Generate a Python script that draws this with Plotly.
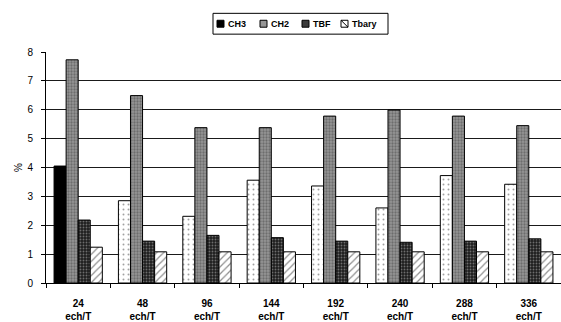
import plotly.graph_objects as go

categories = ["24<br>ech/T", "48<br>ech/T", "96<br>ech/T", "144<br>ech/T",
              "192<br>ech/T", "240<br>ech/T", "288<br>ech/T", "336<br>ech/T"]
ch3 = [4.05, 2.85, 2.31, 3.56, 3.36, 2.60, 3.72, 3.42]
ch2 = [7.73, 6.49, 5.38, 5.38, 5.78, 5.99, 5.78, 5.45]
tbf = [2.18, 1.45, 1.65, 1.57, 1.45, 1.41, 1.45, 1.53]
tbary = [1.24, 1.08, 1.08, 1.08, 1.08, 1.08, 1.08, 1.08]
series_names = ["CH3", "CH2", "TBF", "Tbary"]
y_ticks = [0, 1, 2, 3, 4, 5, 6, 7, 8]

W, H = 561, 322
ML, MR, MT, MB = 46, 0, 52, 37
PW, PH = W - ML - MR, H - MT - MB


def px_x(px):
    return (px - ML) / PW


def px_y(py):
    return (H - MB - py) / PH


line = dict(color="black", width=1)

fig = go.Figure()
fig.add_trace(go.Bar(
    name=series_names[0], x=categories, y=ch3,
    marker=dict(
        color=["black"] + ["white"] * (len(ch3) - 1),
        line=line,
        pattern=dict(shape=[""] + ["."] * (len(ch3) - 1), fgcolor="#555555",
                     size=5, solidity=0.12, fillmode="overlay"),
    ),
))
fig.add_trace(go.Bar(
    name=series_names[1], x=categories, y=ch2,
    marker=dict(color="#969696", line=line,
                pattern=dict(shape=".", fgcolor="#444444", size=3, solidity=0.45,
                             fillmode="overlay")),
))
fig.add_trace(go.Bar(
    name=series_names[2], x=categories, y=tbf,
    marker=dict(color="#1e1e1e", line=line,
                pattern=dict(shape=".", fgcolor="#bbbbbb", size=3, solidity=0.3,
                             fillmode="overlay")),
))
fig.add_trace(go.Bar(
    name=series_names[3], x=categories, y=tbary,
    marker=dict(color="white", line=line,
                pattern=dict(shape="/", fgcolor="#222222", size=5, solidity=0.25,
                             fillmode="overlay")),
))

# Manual legend (box, small swatches, labels)
shapes = [dict(type="rect", xref="paper", yref="paper",
               x0=px_x(213), x1=px_x(388), y0=px_y(34), y1=px_y(13),
               line=dict(color="black", width=1), fillcolor="white", layer="above")]
swatch_x = [217, 260, 302, 341]
swatch_fill = ["black", "#969696", "#3a3a3a", "white"]
annotations = []
for name, sx, fill in zip(series_names, swatch_x, swatch_fill):
    shapes.append(dict(type="rect", xref="paper", yref="paper",
                       x0=px_x(sx), x1=px_x(sx + 7), y0=px_y(27), y1=px_y(20),
                       line=dict(color="black", width=1), fillcolor=fill, layer="above"))
    annotations.append(dict(text=name, xref="paper", yref="paper",
                            x=px_x(sx + 9), y=px_y(24), xanchor="left", yanchor="middle",
                            showarrow=False,
                            font=dict(size=9, family="Liberation Sans, Arial",
                                      weight="bold", color="black")))
shapes.append(dict(type="line", xref="paper", yref="paper",
                   x0=px_x(341), x1=px_x(348), y0=px_y(20), y1=px_y(27),
                   line=dict(color="black", width=1), layer="above"))

fig.update_layout(
    width=W, height=H,
    margin=dict(l=ML, r=MR, t=MT, b=MB),
    paper_bgcolor="white", plot_bgcolor="white",
    barmode="group", bargap=0.25, bargroupgap=0,
    font=dict(family="Liberation Sans, Arial", size=9, color="black"),
    showlegend=False,
    shapes=shapes,
    annotations=annotations,
    xaxis=dict(
        showline=True, linecolor="black", linewidth=1,
        ticks="outside", ticklen=4, tickcolor="black",
        tickson="boundaries", range=[-0.5, 7.5],
        ticklabelstandoff=11,
        tickfont=dict(size=10, family="Liberation Sans, Arial", weight="bold"),
        showgrid=False,
    ),
    yaxis=dict(
        range=[0, 8], tickvals=y_ticks,
        showline=True, linecolor="black", linewidth=1,
        ticks="outside", ticklen=4, tickcolor="black",
        showgrid=True, gridcolor="#1a1a1a", gridwidth=1,
        zeroline=False,
        ticklabelstandoff=6,
        title=dict(text="%", standoff=2, font=dict(size=10)),
        tickfont=dict(size=10),
    ),
)

fig.write_html("out.html")
